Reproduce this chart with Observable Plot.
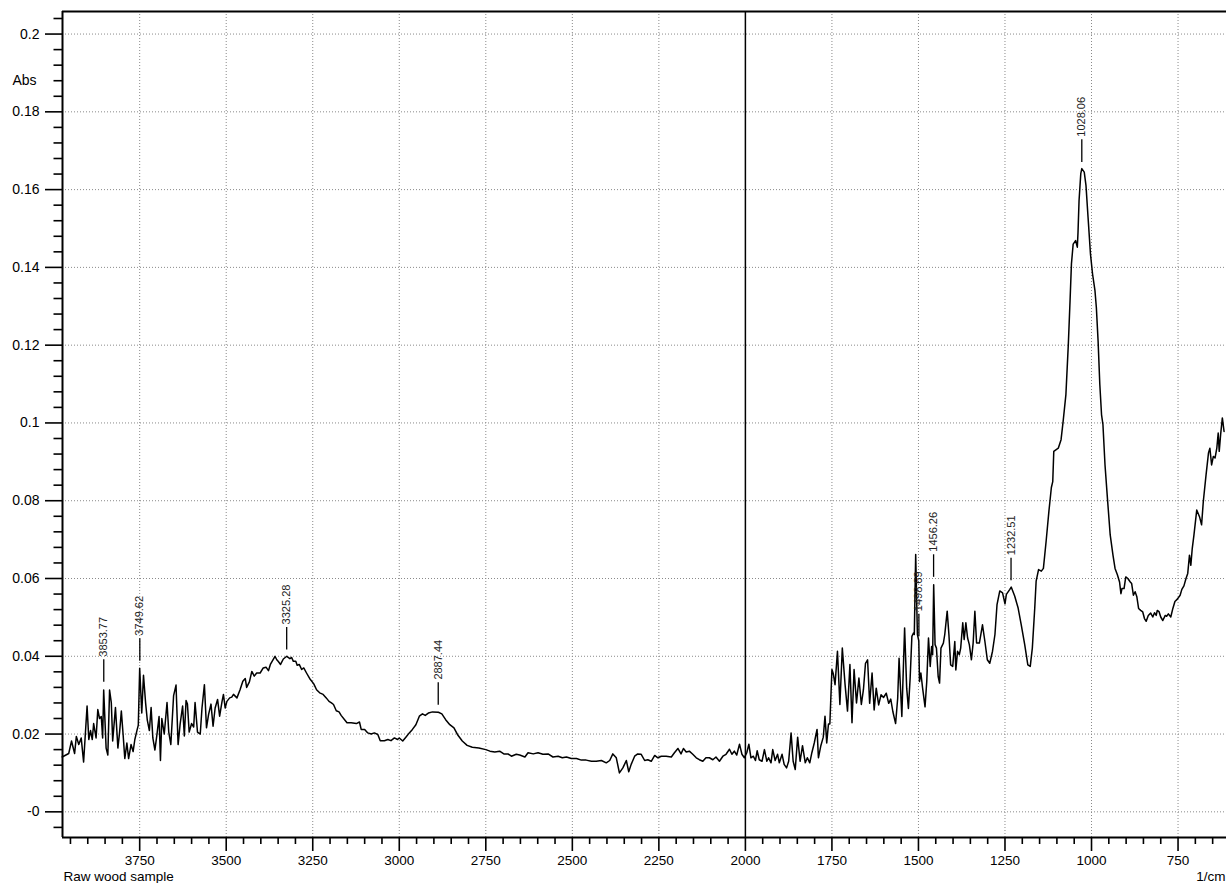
<!DOCTYPE html>
<html><head><meta charset="utf-8">
<script src="https://cdn.jsdelivr.net/npm/d3@7"></script>
<script src="https://cdn.jsdelivr.net/npm/@observablehq/plot@0.6"></script>
<style>html,body{margin:0;padding:0;background:#fff;} #chart svg{display:block;}</style>
</head><body><div id="chart"></div>
<script>
// Spectrum readings: [wavenumber (1/cm), absorbance]
const spectrum3974to3575 = [[3974,.0141],[3955,.0150],[3947,.0182],[3938,.0150],[3933,.0194],[3926,.0173],[3919,.0190],[3912,.0128],[3902,.0272],[3897,.0186],[3892,.0209],[3887,.0186],[3883,.0227],[3876,.0190],[3871,.0263],[3866,.0240],[3861,.0245],[3857,.0190],[3854,.0313],[3847,.0164],[3842,.0146],[3837,.0313],[3832,.0281],[3828,.0182],[3820,.0268],[3813,.0164],[3808,.0205],[3803,.0259],[3798,.0200],[3793,.0137],[3787,.0177],[3782,.0137],[3775,.0173],[3769,.0155],[3764,.0186],[3758,.0209],[3754,.0223],[3750,.0369],[3744,.0254],[3739,.0351],[3733,.0281],[3728,.0236],[3722,.0209],[3717,.0268],[3712,.0190],[3706,.0159],[3700,.0200],[3694,.0245],[3690,.0132],[3686,.0240],[3679,.0200],[3671,.0281],[3666,.0205],[3660,.0173],[3652,.0299],[3645,.0326],[3639,.0173],[3633,.0227],[3626,.0272],[3621,.0195],[3616,.0286],[3612,.0277],[3607,.0205],[3600,.0227],[3594,.0218],[3590,.0281],[3583,.0205],[3575,.0200]];
const spectrum3570to2770 = [[3570,.0267],[3563,.0327],[3557,.0216],[3551,.0250],[3544,.0277],[3538,.0220],[3532,.0267],[3525,.0289],[3519,.0246],[3512,.0284],[3508,.0302],[3503,.0267],[3498,.0284],[3490,.0293],[3484,.0295],[3479,.0302],[3469,.0293],[3460,.0314],[3452,.0336],[3445,.0343],[3441,.0320],[3433,.0334],[3426,.0361],[3419,.0349],[3412,.0357],[3402,.0357],[3393,.0370],[3385,.0372],[3378,.0363],[3372,.0380],[3359,.0400],[3354,.0391],[3350,.0387],[3343,.0379],[3335,.0393],[3325,.0400],[3316,.0394],[3311,.0397],[3306,.0387],[3299,.0387],[3295,.0377],[3289,.0379],[3282,.0366],[3276,.0370],[3268,.0357],[3259,.0343],[3247,.0329],[3239,.0314],[3230,.0306],[3220,.0302],[3211,.0293],[3203,.0284],[3196,.0280],[3190,.0276],[3182,.0260],[3174,.0257],[3168,.0248],[3158,.0237],[3151,.0229],[3139,.0229],[3124,.0227],[3115,.0231],[3110,.0212],[3100,.0212],[3091,.0203],[3081,.0200],[3072,.0203],[3062,.0199],[3055,.0183],[3043,.0183],[3033,.0186],[3024,.0183],[3014,.0190],[3005,.0186],[3000,.0190],[2990,.0182],[2981,.0192],[2971,.0203],[2962,.0212],[2952,.0224],[2942,.0246],[2933,.0252],[2925,.0248],[2916,.0254],[2904,.0257],[2887,.0256],[2877,.0252],[2866,.0237],[2854,.0224],[2842,.0216],[2832,.0199],[2818,.0182],[2804,.0171],[2789,.0166],[2770,.0164]];
const spectrum2750to1659 = [[2750,.0160],[2738,.0156],[2724,.0154],[2710,.0156],[2698,.0149],[2686,.0149],[2676,.0143],[2662,.0148],[2652,.0146],[2637,.0141],[2628,.0152],[2613,.0149],[2599,.0152],[2585,.0148],[2570,.0149],[2556,.0141],[2541,.0143],[2529,.0139],[2517,.0141],[2503,.0137],[2488,.0137],[2474,.0133],[2460,.0133],[2445,.0130],[2431,.0130],[2416,.0132],[2402,.0126],[2392,.0132],[2383,.0149],[2373,.0139],[2364,.0100],[2354,.0113],[2344,.0132],[2337,.0103],[2330,.0122],[2320,.0143],[2311,.0149],[2301,.0148],[2291,.0132],[2282,.0134],[2272,.0130],[2262,.0145],[2253,.0139],[2243,.0143],[2229,.0143],[2214,.0141],[2205,.0152],[2195,.0163],[2186,.0149],[2179,.0163],[2171,.0154],[2162,.0156],[2152,.0148],[2142,.0139],[2133,.0134],[2123,.0130],[2114,.0139],[2104,.0139],[2094,.0134],[2085,.0141],[2075,.0130],[2065,.0143],[2056,.0148],[2046,.0161],[2039,.0148],[2032,.0156],[2025,.0146],[2017,.0174],[2010,.0148],[2003,.0139],[1996,.0152],[1990,.0174],[1984,.0139],[1977,.0143],[1971,.0132],[1966,.0157],[1960,.0134],[1952,.0130],[1945,.0160],[1938,.0130],[1933,.0139],[1926,.0126],[1921,.0160],[1914,.0132],[1907,.0148],[1902,.0126],[1894,.0148],[1888,.0122],[1881,.0113],[1875,.0130],[1868,.0203],[1862,.0130],[1856,.0109],[1849,.0192],[1842,.0130],[1835,.0170],[1827,.0126],[1821,.0139],[1814,.0126],[1808,.0152],[1801,.0177],[1793,.0212],[1789,.0139],[1782,.0170],[1775,.0192],[1770,.0246],[1765,.0177],[1760,.0226],[1756,.0226],[1750,.0366],[1746,.0355],[1741,.0327],[1734,.0413],[1727,.0276],[1720,.0421],[1712,.0327],[1705,.0259],[1698,.0379],[1692,.0229],[1686,.0366],[1679,.0280],[1672,.0344],[1665,.0276],[1659,.0314]];
const spectrum1653to1116 = [[1653,.0382],[1647,.0391],[1641,.0279],[1634,.0357],[1628,.0262],[1622,.0318],[1615,.0275],[1608,.0301],[1601,.0294],[1593,.0305],[1586,.0279],[1580,.0290],[1574,.0258],[1566,.0227],[1560,.0292],[1556,.0395],[1548,.0245],[1540,.0473],[1534,.0318],[1529,.0266],[1524,.0344],[1519,.0451],[1514,.0460],[1512,.0456],[1508,.0662],[1503,.0456],[1499,.0440],[1497,.0335],[1493,.0357],[1488,.0318],[1481,.0270],[1476,.0335],[1471,.0447],[1466,.0374],[1462,.0425],[1459,.0404],[1456,.0584],[1452,.0430],[1448,.0421],[1443,.0348],[1439,.0331],[1435,.0421],[1428,.0434],[1424,.0456],[1417,.0516],[1412,.0456],[1407,.0378],[1401,.0374],[1395,.0438],[1392,.0365],[1387,.0413],[1382,.0404],[1378,.0421],[1372,.0486],[1368,.0443],[1363,.0486],[1358,.0447],[1353,.0430],[1347,.0391],[1342,.0434],[1337,.0516],[1332,.0434],[1324,.0434],[1315,.0481],[1308,.0438],[1301,.0391],[1294,.0382],[1286,.0413],[1279,.0456],[1273,.0533],[1265,.0568],[1257,.0563],[1250,.0535],[1246,.0559],[1236,.0572],[1232,.0578],[1222,.0555],[1212,.0524],[1203,.0481],[1193,.0430],[1184,.0378],[1177,.0374],[1171,.0421],[1164,.0524],[1160,.0593],[1153,.0623],[1145,.0619],[1139,.0626],[1131,.0697],[1123,.0774],[1116,.0834]];
const spectrum1112to971 = [[1112,.0849],[1109,.0927],[1103,.0931],[1096,.0935],[1088,.0957],[1082,.1004],[1074,.1073],[1067,.1202],[1062,.1314],[1058,.1409],[1053,.1460],[1046,.1469],[1041,.1452],[1039,.1490],[1036,.1572],[1031,.1641],[1028,.1654],[1021,.1645],[1016,.1611],[1010,.1529],[1003,.1434],[997,.1383],[990,.1340],[986,.1297],[981,.1211],[976,.1099],[971,.1021]];
const spectrum967to617 = [[967,.0996],[961,.0892],[954,.0806],[946,.0712],[938,.0660],[932,.0626],[925,.0609],[919,.0591],[915,.0561],[912,.0574],[906,.0574],[901,.0604],[895,.0600],[888,.0591],[884,.0587],[879,.0557],[874,.0566],[869,.0553],[864,.0523],[858,.0518],[852,.0514],[847,.0497],[842,.0490],[836,.0505],[829,.0511],[823,.0501],[818,.0512],[813,.0505],[810,.0518],[805,.0515],[800,.0501],[794,.0492],[787,.0505],[783,.0503],[778,.0509],[771,.0501],[765,.0523],[759,.0541],[752,.0547],[744,.0557],[739,.0572],[733,.0581],[727,.0600],[722,.0613],[717,.0660],[713,.0634],[709,.0677],[704,.0712],[696,.0776],[688,.0759],[682,.0738],[677,.0798],[669,.0867],[662,.0923],[658,.0935],[653,.0892],[648,.0914],[643,.0910],[638,.0935],[634,.0974],[631,.0927],[627,.0970],[622,.1013],[617,.0978]];

// Peak annotations
const peakLabels = ["3853.77","3749.62","3325.28","2887.44","1498.69","1456.26","1232.51","1028.06"];
const peakWavenumber = [3853.77,3749.62,3325.28,2887.44,1498.69,1456.26,1232.51,1028.06];
const peakHeight = [0.0317,0.0371,0.0400,0.0258,0.0434,0.0587,0.0578,0.1654];

// Axis ticks
const xTicks = [3750,3500,3250,3000,2750,2500,2250,2000,1750,1500,1250,1000,750];
const xTickLabels = ["3750","3500","3250","3000","2750","2500","2250","2000","1750","1500","1250","1000","750"];
const yTicks = [0,0.02,0.04,0.06,0.08,0.1,0.12,0.14,0.16,0.18,0.2];
const yTickLabels = ["-0","0.02","0.04","0.06","0.08","0.1","0.12","0.14","0.16","0.18","0.2"];
const xTitle = "1/cm", yTitle = "Abs", sampleName = "Raw wood sample";

const spectrum = [].concat(spectrum3974to3575, spectrum3570to2770, spectrum2750to1659,
  spectrum1653to1116, spectrum1112to971, spectrum967to617).map(([w, a]) => ({w, a}));
const peaks = peakWavenumber.map((w, i) => ({w, h: peakHeight[i], label: peakLabels[i]}));
const xDomain = [3973, 610];
const yDomain = [-0.0066, 0.2058];
const gap = 0.0016, len = 0.0058, pad = 0.0008;
const xGrid = xTicks.filter(d => d !== 2000);
const xMinor = d3.range(3950, 600, -50).filter(d => d % 250 !== 0);
const yMinor = d3.range(-4, 206, 4).filter(d => d % 20 !== 0).map(d => d / 1000);
const grid = {stroke: "#8a8a8a", strokeOpacity: 1, strokeDasharray: "1,2", strokeWidth: 1};
const lookup = (ticks, labels) => d => labels[ticks.findIndex(t => Math.abs(t - d) < 1e-9)] ?? "";

const chart = Plot.plot({
  width: 1226, height: 883,
  marginLeft: 62, marginRight: 0, marginTop: 11, marginBottom: 46,
  style: {fontFamily: '"Liberation Sans", Arial, Helvetica, sans-serif', fontSize: "13px", background: "white", color: "black"},
  x: {domain: xDomain, label: null},
  y: {domain: yDomain, label: null},
  marks: [
    Plot.gridY(yTicks, grid),
    Plot.gridX(xGrid, grid),
    Plot.ruleX([2000], {stroke: "black", strokeWidth: 1.5}),
    Plot.line(spectrum, {x: "w", y: "a", stroke: "black", strokeWidth: 1.5}),
    Plot.ruleX(peaks, {x: "w", y1: d => d.h + gap, y2: d => d.h + gap + len, stroke: "black", strokeWidth: 1.3}),
    Plot.text(peaks, {x: "w", y: d => d.h + gap + len + pad, text: "label", rotate: -90, textAnchor: "start", lineAnchor: "middle", fontSize: 11, fill: "#222"}),
    Plot.axisY(yTicks, {anchor: "left", label: null, tickSize: 17, tickPadding: 6, strokeWidth: 1.6, fontSize: 14, tickFormat: lookup(yTicks, yTickLabels)}),
    Plot.axisY(yMinor, {anchor: "left", label: null, tickSize: 8.5, strokeWidth: 1.6, tickFormat: () => ""}),
    Plot.axisX(xTicks, {anchor: "bottom", label: null, tickSize: 14, tickPadding: 4, strokeWidth: 1.6, fontSize: 13.5, tickFormat: lookup(xTicks, xTickLabels)}),
    Plot.axisX(xMinor, {anchor: "bottom", label: null, tickSize: 7, strokeWidth: 1.6, tickFormat: () => ""}),
    Plot.ruleX([xDomain[0]], {stroke: "black", strokeWidth: 2}),
    Plot.ruleY([yDomain[0]], {stroke: "black", strokeWidth: 2}),
    Plot.ruleY([yDomain[1]], {stroke: "black", strokeWidth: 2}),
    Plot.text([yTitle], {text: d => d, frameAnchor: "top-left", dx: -38, dy: 64, textAnchor: "middle", fontSize: 14}),
    Plot.text([sampleName], {text: d => d, frameAnchor: "bottom-left", dx: 1, dy: 43, textAnchor: "start", fontSize: 13.5}),
    Plot.text([xTitle], {text: d => d, frameAnchor: "bottom-right", dx: -1, dy: 43, textAnchor: "end", fontSize: 13.5})
  ]
});
document.getElementById("chart").appendChild(chart);
</script>
</body></html>
